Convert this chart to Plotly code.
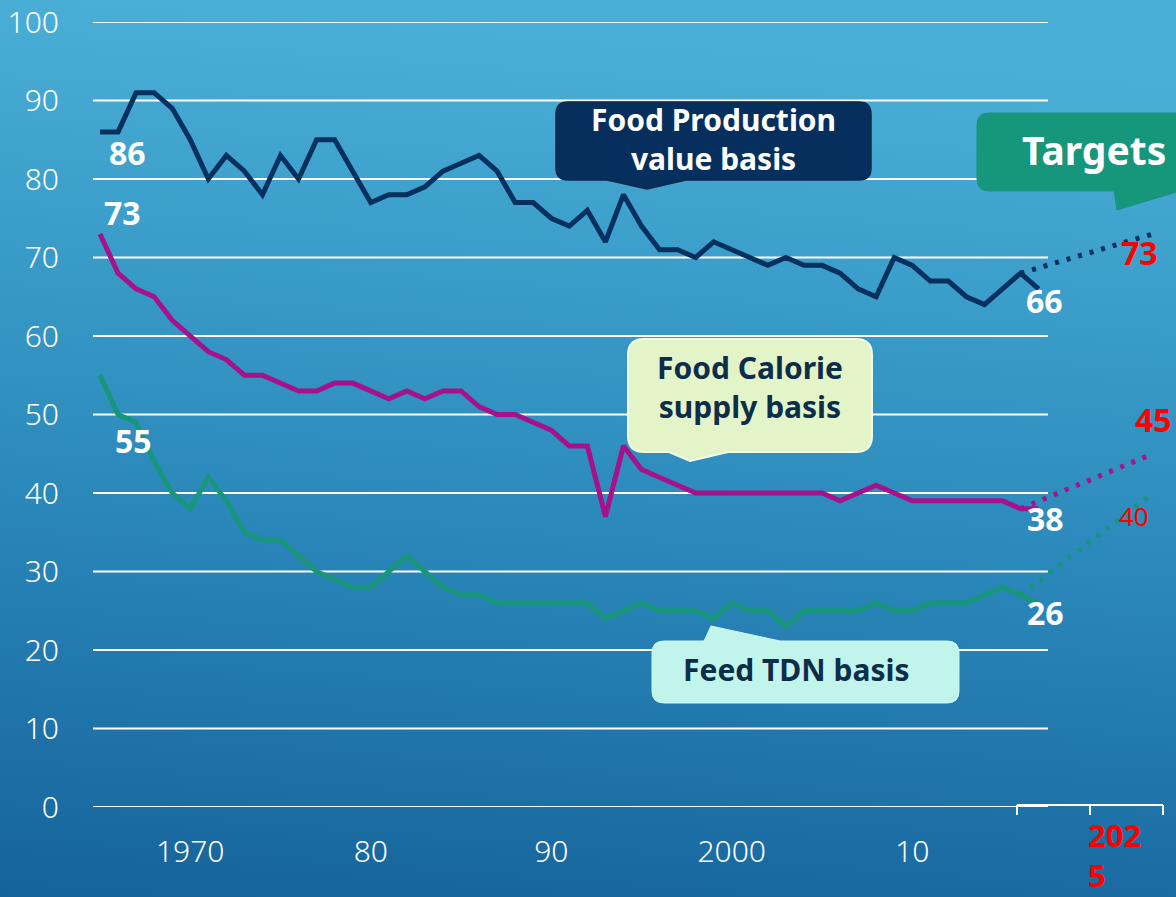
import base64
import plotly.graph_objects as go

# ---------------- data ----------------
years = list(range(1965, 2018))
production = [86, 86, 91, 91, 89, 85, 80, 83, 81, 78,
              83, 80, 85, 85, 81, 77, 78, 78, 79, 81,
              82, 83, 81, 77, 77, 75, 74, 76, 72, 78,
              74, 71, 71, 70, 72, 71, 70, 69, 70, 69,
              69, 68, 66, 65, 70, 69, 67, 67, 65, 64,
              66, 68, 66]
calorie = [73, 68, 66, 65, 62, 60, 58, 57, 55, 55,
           54, 53, 53, 54, 54, 53, 52, 53, 52, 53,
           53, 51, 50, 50, 49, 48, 46, 46, 37, 46,
           43, 42, 41, 40, 40, 40, 40, 40, 40, 40,
           40, 39, 40, 41, 40, 39, 39, 39, 39, 39,
           39, 38, 38]
feed = [55, 50, 49, 44, 40, 38, 42, 39, 35, 34,
        34, 32, 30, 29, 28, 28, 30, 32, 30, 28,
        27, 27, 26, 26, 26, 26, 26, 26, 24, 25,
        26, 25, 25, 25, 24, 26, 25, 25, 23, 25,
        25, 25, 25, 26, 25, 25, 26, 26, 26, 27,
        28, 27, 26]

target_label = "2025"
target_production = 73
target_calorie = 45
target_feed = 40
target_start_year = 2016

tick_years = [1970, 1980, 1990, 2000, 2010]
tick_text = ["1970", "80", "90", "2000", "10"]
y_ticks = list(range(0, 101, 10))

series_names = ["Food Production<br>value basis", "Food Calorie<br>supply basis", "Feed TDN basis"]

# ---------------- layout geometry ----------------
W, H = 1176, 897
PL, PT, PB, PR = 93, 22, 90, 0
PW, PH = W - PL - PR, H - PT - PB
year_px = 18.05                       # pixels per year on the axis
x_min = 1965 - 7 / year_px
x_max = x_min + PW / year_px
target_pos = x_min + (1153 - PL) / year_px   # axis position used for the 2025 target

NAVY = "#06305e"
MAGENTA = "#a6128b"
GREEN = "#17967a"
RED = "#ff0000"
FONT = "Noto Sans"


def px(x):
    return (x - PL) / PW


def py(y):
    return (PT + PH - y) / PH


def box_path(x0, y0, x1, y1, r, tail=None, side="bottom"):
    pts = []
    pts.append(("M", [(x0 + r, y0)]))
    if tail and side == "top":
        for p in tail:
            pts.append(("L", [p]))
    pts.append(("L", [(x1 - r, y0)]))
    pts.append(("Q", [(x1, y0), (x1, y0 + r)]))
    pts.append(("L", [(x1, y1 - r)]))
    pts.append(("Q", [(x1, y1), (x1 - r, y1)]))
    if tail and side == "bottom":
        for p in tail:
            pts.append(("L", [p]))
    pts.append(("L", [(x0 + r, y1)]))
    pts.append(("Q", [(x0, y1), (x0, y1 - r)]))
    pts.append(("L", [(x0, y0 + r)]))
    pts.append(("Q", [(x0, y0), (x0 + r, y0)]))
    s = ""
    for cmd, ps in pts:
        s += cmd + " " + " ".join(f"{px(a):.5f},{py(b):.5f}" for a, b in ps) + " "
    return s + "Z"


fig = go.Figure()

# actual series
fig.add_trace(go.Scatter(x=years, y=production, mode="lines",
                         line=dict(color=NAVY, width=5), hoverinfo="skip"))
fig.add_trace(go.Scatter(x=years, y=calorie, mode="lines",
                         line=dict(color=MAGENTA, width=5), hoverinfo="skip"))
fig.add_trace(go.Scatter(x=years, y=feed, mode="lines",
                         line=dict(color=GREEN, width=5), hoverinfo="skip"))

# dotted target lines
si = years.index(target_start_year)
for vals, tgt, col in [(production, target_production, NAVY),
                       (calorie, target_calorie, MAGENTA),
                       (feed, target_feed, GREEN)]:
    fig.add_trace(go.Scatter(x=[years[si], target_pos], y=[vals[si], tgt], mode="lines",
                             line=dict(color=col, width=5, dash="4px,8px"), hoverinfo="skip"))

shapes = []
# gridlines (end before the target area)
for v in y_ticks:
    shapes.append(dict(type="line", xref="paper", yref="y", x0=0, x1=px(1048), y0=v, y1=v,
                       line=dict(color="white", width=2), layer="below"))
# bracket on the target part of the axis
shapes.append(dict(type="line", xref="paper", yref="paper", x0=px(1017), x1=px(1163),
                   y0=py(805), y1=py(805), line=dict(color="white", width=2)))
for xb in (1017, 1090, 1163):
    shapes.append(dict(type="line", xref="paper", yref="paper", x0=px(xb), x1=px(xb),
                       y0=py(805), y1=py(815), line=dict(color="white", width=2)))

# callout boxes
shapes.append(dict(type="path", xref="paper", yref="paper",
                   path=box_path(556, 102, 871, 180, 12, [(686, 180), (647, 189), (607, 180)]),
                   fillcolor="#072f5d", line=dict(color="#0b2a4c", width=1.5)))
shapes.append(dict(type="path", xref="paper", yref="paper",
                   path=box_path(628, 339, 872, 452, 16, [(728, 452), (690, 461), (669, 452)]),
                   fillcolor="#e3f4c8", line=dict(color="#f2fbe4", width=2)))
shapes.append(dict(type="path", xref="paper", yref="paper",
                   path=box_path(652, 641, 959, 703, 12, [(704, 641), (711, 626), (780, 641)], side="top"),
                   fillcolor="#c1f5ec", line=dict(color="#cdf7f0", width=1)))
shapes.append(dict(type="path", xref="paper", yref="paper",
                   path=box_path(977, 113, 1200, 191, 12, [(1180, 191), (1117, 210), (1114, 191)]),
                   fillcolor="#16967b", line=dict(color="#16967b", width=1)))

ann = []


def text_px(x, y, text, size, color, bold=True, xanchor="center", yanchor="middle",
            align="center"):
    ann.append(dict(xref="paper", yref="paper", x=px(x), y=py(y), text=text,
                    showarrow=False, xanchor=xanchor, yanchor=yanchor, align=align,
                    font=dict(family=FONT, size=size, color=color,
                              weight="bold" if bold else "normal")))


text_px(713, 139, series_names[0], 30, "white")
text_px(750, 387, series_names[1], 30, "#0e2d4a")
text_px(796, 669, series_names[2], 30, "#0e2d4a")
text_px(1094, 150, "Targets", 39, "white")


def data_label(x, y, xs, ys, color="white", size=32, bold=True):
    ann.append(dict(xref="x", yref="y", x=x, y=y, text=str(y), showarrow=False,
                    xshift=xs, yshift=ys,
                    font=dict(family=FONT, size=size, color=color,
                              weight="bold" if bold else "normal")))


data_label(years[0], production[0], 27, -21)
data_label(years[0], calorie[0], 22, 21)
data_label(years[0], feed[0], 33, -65)
data_label(years[-1], production[-1], 6, -12)
data_label(years[-1], calorie[-1], 7, -10)
data_label(years[-1], feed[-1], 7, -10)
data_label(target_pos, target_production, -14, -19, RED)
data_label(target_pos, target_calorie, 0, 34, RED)
data_label(target_pos, target_feed, -19, -23, RED, size=26, bold=False)

text_px(1086, 855, target_label[:3] + "<br>" + target_label[3:], 31, RED,
        xanchor="left", yanchor="middle", align="left")

# background gradient
svg = ('<svg xmlns="http://www.w3.org/2000/svg" width="1176" height="897">'
       '<defs><linearGradient id="g" x1="0.1" y1="0" x2="0" y2="1">'
       '<stop offset="0" stop-color="#4aafd7"/>'
       '<stop offset="0.5" stop-color="#2d8cbd"/>'
       '<stop offset="1" stop-color="#15639b"/>'
       '</linearGradient></defs>'
       '<rect width="1176" height="897" fill="url(#g)"/></svg>')
src = "data:image/svg+xml;base64," + base64.b64encode(svg.encode()).decode()

fig.update_layout(
    width=W, height=H,
    margin=dict(l=PL, r=PR, t=PT, b=PB),
    paper_bgcolor="#2f8dbd", plot_bgcolor="rgba(0,0,0,0)",
    showlegend=False,
    shapes=shapes,
    annotations=ann,
    images=[dict(source=src, xref="paper", yref="paper", x=-PL / PW, y=1 + PT / PH,
                 sizex=W / PW, sizey=H / PH, xanchor="left", yanchor="top",
                 sizing="stretch", layer="below")],
    xaxis=dict(range=[x_min, x_max], showgrid=False, zeroline=False, showline=False,
               tickvals=tick_years, ticktext=tick_text, ticks="outside", ticklen=18,
               tickcolor="rgba(0,0,0,0)", automargin=False,
               tickfont=dict(family=FONT, size=30, color="white", weight=300)),
    yaxis=dict(range=[0, 100], showgrid=False, zeroline=False, showline=False,
               tickvals=y_ticks, ticks="outside", ticklen=27, tickcolor="rgba(0,0,0,0)",
               automargin=False,
               tickfont=dict(family=FONT, size=30, color="white", weight=300)),
)

fig.write_html("out.html", config={"displayModeBar": False},
               post_script="document.body.style.margin='0';document.body.style.overflow='hidden';")
